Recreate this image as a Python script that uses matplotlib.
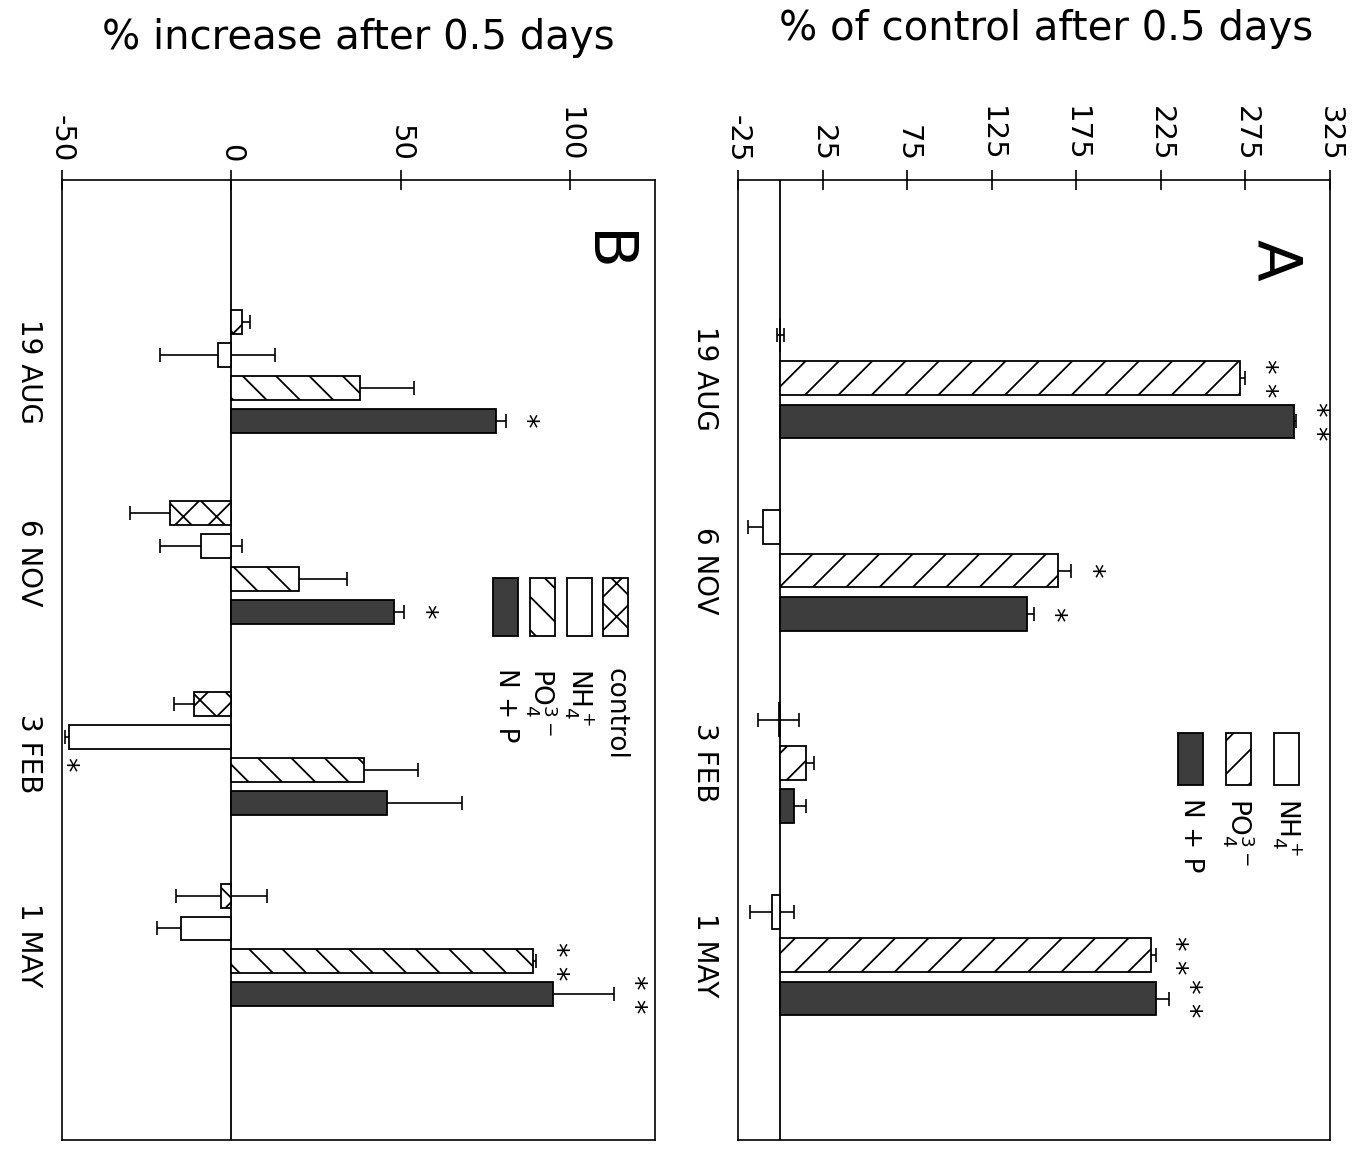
import matplotlib
matplotlib.use("Agg")
import matplotlib.pyplot as plt
from matplotlib.patches import Rectangle
import numpy as np

plt.rcParams['font.family'] = 'DejaVu Sans'
plt.rcParams['mathtext.default'] = 'regular'
plt.rcParams['hatch.linewidth'] = 1.3

dates = ['19 AUG', '6 NOV', '3 FEB', '1 MAY']

# panel B : % increase after 0.5 days (control, NH4, PO4, N+P)
b_control = [3, -18, -11, -3]
b_control_err = [2.5, 12, 6, 13.5]
b_nh4 = [-4, -9, -48, -15]
b_nh4_err = [17, 12, 1, 7]
b_po4 = [38, 20, 39, 89]
b_po4_err = [16, 14, 16, 1]
b_np = [78, 48, 46, 95]
b_np_err = [3, 3, 22, 18]
b_control_sig = ['', '', '', '']
b_nh4_sig = ['', '', '*', '']
b_po4_sig = ['', '', '', '**']
b_np_sig = ['*', '*', '', '**']

# panel A : % of control after 0.5 days (NH4, PO4, N+P)
a_nh4 = [0, -10, -1, -5]
a_nh4_err = [2, 9, 12, 13]
a_po4 = [272, 164, 15, 219]
a_po4_err = [3, 8, 5, 3]
a_np = [304, 146, 8, 222]
a_np_err = [1, 4, 7, 8]
a_nh4_sig = ['', '', '', '']
a_po4_sig = ['**', '*', '', '**']
a_np_sig = ['**', '*', '', '**']

b_ticks = [-50, 0, 50, 100]
a_ticks = [-25, 25, 75, 125, 175, 225, 275, 325]

dark = '#3d3d3d'
lab_control = 'control'
lab_nh4 = r'NH$_4^+$'
lab_po4 = r'PO$_4^{3-}$'
lab_np = 'N + P'


def draw_panel(ax, series, slot, height, xlim, ylim, ticks):
    pos = np.arange(len(dates))
    n = len(series)
    for i, s in enumerate(series):
        y = pos + (i - (n - 1) / 2) * slot
        # bars sit on top of the error bars, so only the outer half shows
        ax.barh(y, s['vals'], height=height, color=s['color'], edgecolor='black',
                hatch=s['hatch'], linewidth=1.3, zorder=3)
        ax.errorbar(s['vals'], y, xerr=s['err'], fmt='none', ecolor='black',
                    elinewidth=1.2, capsize=5, capthick=1.2, zorder=2)
        for v, e, yy, t in zip(s['vals'], s['err'], y, s['sig']):
            if not t:
                continue
            t = ' '.join(t)
            if v >= 0:
                ax.annotate(t, xy=(v + e, yy), xytext=(4, 0), textcoords='offset points',
                            rotation=-90, ha='left', va='center', fontsize=21)
            else:
                ax.annotate(t, xy=(v - e, yy), xytext=(0, -14), textcoords='offset points',
                            rotation=-90, ha='center', va='top', fontsize=21)
    ax.axvline(0, color='black', lw=1.3, zorder=1)
    ax.set_xlim(*xlim)
    ax.set_ylim(*ylim)
    ax.xaxis.tick_top()
    ax.set_xticks(ticks)
    ax.set_xticklabels([str(t) for t in ticks])
    ax.tick_params(axis='x', direction='inout', length=14, width=1.2, pad=6,
                   labelsize=21, labelrotation=-90)
    ax.set_yticks(pos)
    ax.set_yticklabels(dates)
    ax.tick_params(axis='y', length=0, pad=14, labelsize=20, labelrotation=-90)
    for lab in ax.get_yticklabels():
        lab.set_va('center')
    for sp in ax.spines.values():
        sp.set_linewidth(1.2)


def draw_legend(ax, entries, x0, dx, top, w, h, text_top):
    for i, (lab, color, hatch) in enumerate(entries):
        x = x0 + i * dx
        ax.add_patch(Rectangle((x, top - h), w, h, transform=ax.transAxes,
                               facecolor=color, edgecolor='black', hatch=hatch,
                               linewidth=1.3, clip_on=False))
        ax.text(x + w / 2, text_top, lab, transform=ax.transAxes, rotation=-90,
                ha='center', va='top', fontsize=19)


fig = plt.figure(figsize=(13.72, 11.55), dpi=100)
axB = fig.add_axes([62 / 1372, 15 / 1155, 593 / 1372, 960 / 1155])
axA = fig.add_axes([738 / 1372, 15 / 1155, 592 / 1372, 960 / 1155])

seriesB = [
    dict(vals=b_control, err=b_control_err, sig=b_control_sig, color='white', hatch='x'),
    dict(vals=b_nh4, err=b_nh4_err, sig=b_nh4_sig, color='white', hatch=None),
    dict(vals=b_po4, err=b_po4_err, sig=b_po4_sig, color='white', hatch='\\'),
    dict(vals=b_np, err=b_np_err, sig=b_np_sig, color=dark, hatch=None),
]
seriesA = [
    dict(vals=a_nh4, err=a_nh4_err, sig=a_nh4_sig, color='white', hatch=None),
    dict(vals=a_po4, err=a_po4_err, sig=a_po4_sig, color='white', hatch='/'),
    dict(vals=a_np, err=a_np_err, sig=a_np_sig, color=dark, hatch=None),
]

draw_panel(axB, seriesB, 0.172, 0.125, (-50, 125), (4.02, -1.0), b_ticks)
draw_panel(axA, seriesA, 0.225, 0.175, (-25, 325), (3.96, -1.03), a_ticks)

axB.text(0.5, 1.148, '% increase after 0.5 days', transform=axB.transAxes,
         ha='center', va='center', fontsize=29)
axA.text(0.52, 1.157, '% of control after 0.5 days', transform=axA.transAxes,
         ha='center', va='center', fontsize=29)
axB.text(0.915, 0.925, 'B', transform=axB.transAxes, rotation=-90,
         ha='center', va='center', fontsize=44)
axA.text(0.907, 0.917, 'A', transform=axA.transAxes, rotation=-90,
         ha='center', va='center', fontsize=44)

draw_legend(axB, [(lab_np, dark, None), (lab_po4, 'white', '\\'),
                  (lab_nh4, 'white', None), (lab_control, 'white', 'x')],
            0.727, 0.062, 0.585, 0.042, 0.060, 0.492)
draw_legend(axA, [(lab_np, dark, None), (lab_po4, 'white', '/'),
                  (lab_nh4, 'white', None)],
            0.744, 0.081, 0.424, 0.041, 0.054, 0.356)

fig.savefig('out.png', dpi=100, facecolor='white')
